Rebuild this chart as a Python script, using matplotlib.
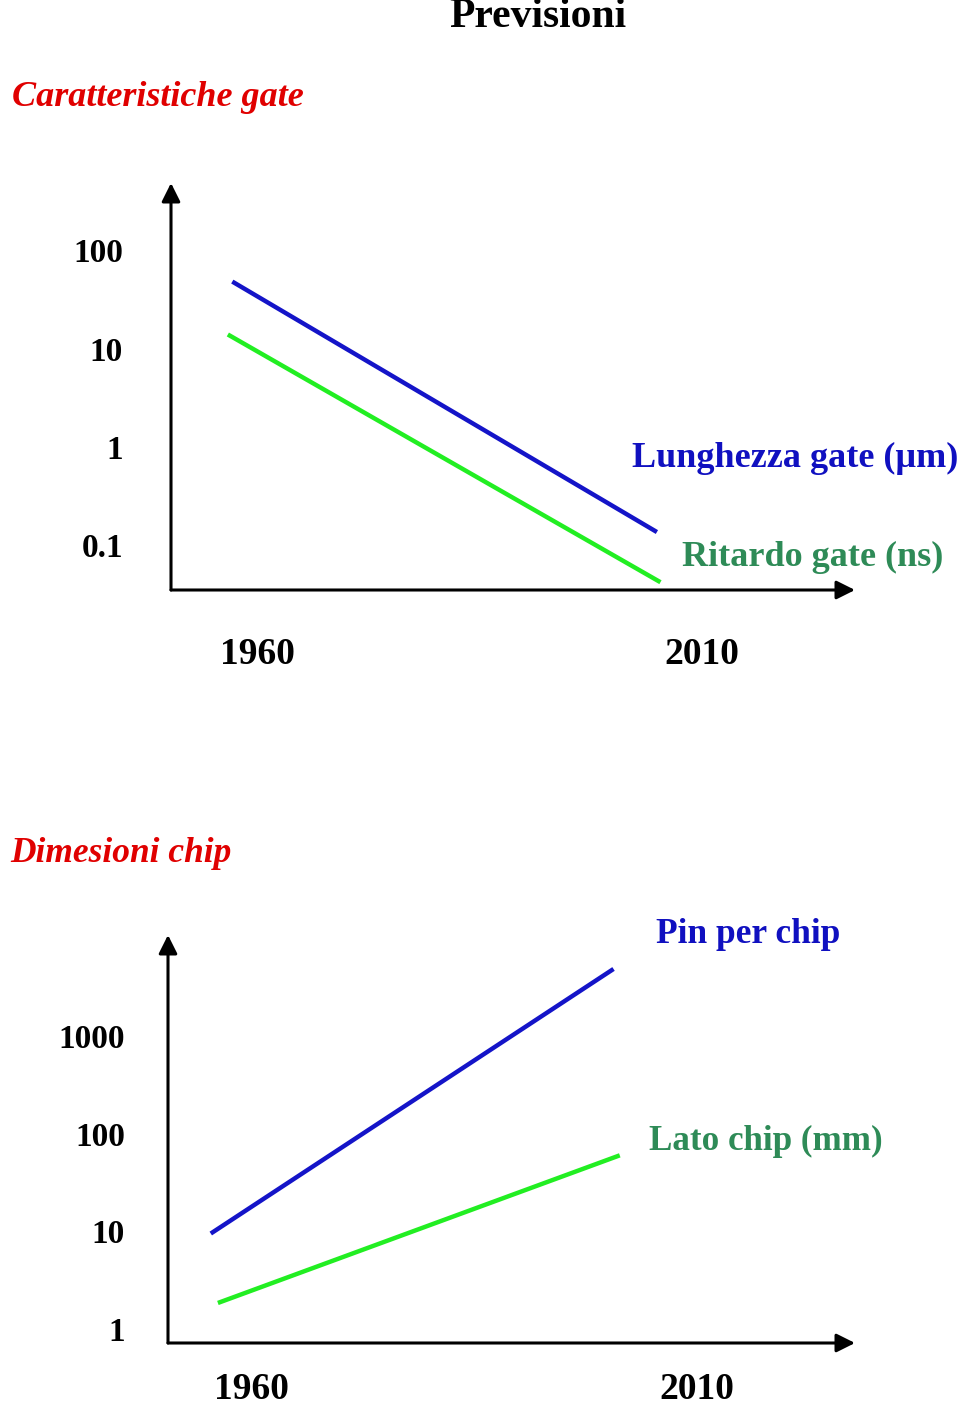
import matplotlib
matplotlib.use("Agg")
import matplotlib.pyplot as plt

# ---- data ----
year_ticks = [1960, 2010]
year_tick_labels = ["1960", "2010"]

gate_yticks = [0.1, 1, 10, 100]
gate_ytick_labels = ["0.1", "1", "10", "100"]
lunghezza_years = [1957.2, 2005.0]
lunghezza_vals = [48, 0.136]
ritardo_years = [1956.7, 2005.4]
ritardo_vals = [13.9, 0.042]

chip_yticks = [1, 10, 100, 1000]
chip_ytick_labels = ["1", "10", "100", "1000"]
pin_years = [1955.4, 2000.6]
pin_vals = [9.5, 4850]
lato_years = [1956.2, 2001.3]
lato_vals = [1.85, 60]

W, H = 960, 1407
fig = plt.figure(figsize=(W / 100, H / 100), dpi=100)
fig.patch.set_facecolor("white")

SERIF = ["Liberation Serif", "DejaVu Serif"]
LINE_BLUE = "#1414C8"
LINE_GREEN = "#22EE22"
TEXT_BLUE = "#1010C0"
TEXT_GREEN = "#2E8B57"
RED = "#E00000"


def px_axes(left, right, top, bottom):
    return fig.add_axes([left / W, 1 - bottom / H, (right - left) / W, (bottom - top) / H])


def style_axes(ax, xlim, ylim, yticks, ylabels, xpad, ypad):
    ax.set_yscale("log")
    ax.set_xlim(*xlim)
    ax.set_ylim(*ylim)
    for s in ax.spines.values():
        s.set_visible(False)
    ax.set_xticks(year_ticks)
    ax.set_xticklabels(year_tick_labels, fontfamily=SERIF, fontweight="bold", fontsize=27)
    ax.set_yticks(yticks)
    ax.set_yticklabels(ylabels, fontfamily=SERIF, fontweight="bold", fontsize=24)
    ax.yaxis.set_minor_locator(matplotlib.ticker.NullLocator())
    ax.tick_params(axis="x", length=0, pad=xpad)
    ax.tick_params(axis="y", length=0, pad=ypad)
    ax.patch.set_alpha(0)
    arrow = dict(arrowstyle="-|>", mutation_scale=28, lw=2.2, color="black",
                 shrinkA=0, shrinkB=0)
    ax.annotate("", xy=(1, 0), xytext=(0, 0), xycoords="axes fraction",
                textcoords="axes fraction", arrowprops=arrow, annotation_clip=False)
    ax.annotate("", xy=(0, 1), xytext=(0, 0), xycoords="axes fraction",
                textcoords="axes fraction", arrowprops=arrow, annotation_clip=False)


# ---- top chart ----
ax1 = px_axes(171, 855, 183, 590)
style_axes(ax1, (1950.3, 2027.3), (0.035, 483), gate_yticks, gate_ytick_labels, 34, 34.5)
ax1.plot(lunghezza_years, lunghezza_vals, color=LINE_BLUE, lw=3.2, solid_capstyle="butt")
ax1.plot(ritardo_years, ritardo_vals, color=LINE_GREEN, lw=3.2, solid_capstyle="butt")

# ---- bottom chart ----
ax2 = px_axes(168, 855, 935, 1343)
style_axes(ax2, (1950.6, 2027.7), (0.72, 10800), chip_yticks, chip_ytick_labels, 21, 31)
ax2.plot(pin_years, pin_vals, color=LINE_BLUE, lw=3.2, solid_capstyle="butt")
ax2.plot(lato_years, lato_vals, color=LINE_GREEN, lw=3.2, solid_capstyle="butt")


def ftext(x, y, s, **kw):
    fig.text(x / W, 1 - y / H, s, fontfamily=SERIF, fontweight="bold", va="baseline", **kw)


ftext(538, 27, "Previsioni", fontsize=30, color="black", ha="center")
ftext(12, 106, "Caratteristiche gate", fontsize=26, color=RED, ha="left", style="italic")
ftext(10, 862, "Dimesioni chip", fontsize=25.5, color=RED, ha="left", style="italic")
ftext(632, 467, "Lunghezza gate (\u00b5m)", fontsize=26, color=TEXT_BLUE, ha="left")
ftext(682, 566, "Ritardo gate (ns)", fontsize=26, color=TEXT_GREEN, ha="left")
ftext(656, 943, "Pin per chip", fontsize=25.5, color=TEXT_BLUE, ha="left")
ftext(649, 1150, "Lato chip (mm)", fontsize=25.2, color=TEXT_GREEN, ha="left")

fig.savefig("out.png", dpi=100, facecolor="white")
